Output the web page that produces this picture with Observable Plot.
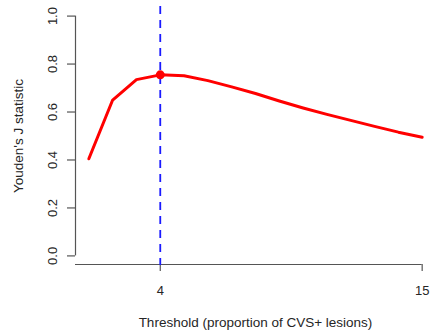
<!DOCTYPE html>
<html>
<head>
<meta charset="utf-8">
<script src="https://cdn.jsdelivr.net/npm/d3@7"></script>
<script src="https://cdn.jsdelivr.net/npm/@observablehq/plot@0.6"></script>
<style>
  html, body { margin: 0; padding: 0; background: #fff; }
</style>
</head>
<body>
<div id="chart"></div>
<script>
const thresholds = [1, 2, 3, 4, 5, 6, 7, 8, 9, 10, 11, 12, 13, 14, 15];
const youdenJ = [0.405, 0.65, 0.735, 0.755, 0.751, 0.731, 0.705, 0.677, 0.646, 0.617, 0.59, 0.565, 0.54, 0.516, 0.495];
const bestThreshold = [4];
const bestJ = [0.755];
const xTicks = [4, 15];
const yTicks = [0, 0.2, 0.4, 0.6, 0.8, 1.0];
const xDomain = [0.44, 15.56];
const yDomain = [-0.04, 1.04];

const data = thresholds.map((t, i) => ({t, j: youdenJ[i]}));
const best = bestThreshold.map((t, i) => ({t, j: bestJ[i]}));
const axisColor = "#555";
const textColor = "#262626";

const chart = Plot.plot({
  width: 438,
  height: 331,
  marginLeft: 75,
  marginRight: 3,
  marginTop: 6,
  marginBottom: 66,
  style: {fontFamily: "'Liberation Sans', Arial, Helvetica, sans-serif", fontSize: "13px", color: textColor, background: "#fff"},
  x: {domain: xDomain},
  y: {domain: yDomain},
  marks: [
    // y axis line & ticks
    Plot.ruleX([xDomain[0]], {y1: yTicks[0], y2: yTicks[yTicks.length - 1], stroke: axisColor, strokeWidth: 1.2}),
    Plot.axisY(yTicks, {anchor: "left", tickSize: 8, tickFormat: () => "", stroke: axisColor, strokeWidth: 1.2, label: null}),
    Plot.text(yTicks, {y: d => d, text: d => d.toFixed(1), frameAnchor: "left", dx: -23, rotate: -90, textAnchor: "middle", lineAnchor: "middle", fill: textColor, fontSize: 13}),
    Plot.text(["Youden's J statistic"], {y: 0.5, text: d => d, frameAnchor: "left", dx: -57, rotate: -90, textAnchor: "middle", lineAnchor: "middle", fill: textColor, fontSize: 13.5}),
    // x axis line & ticks
    Plot.ruleY([yDomain[0]], {x1: xDomain[0], x2: xTicks[xTicks.length - 1], stroke: axisColor, strokeWidth: 1.2, dy: -1}),
    Plot.axisX(xTicks, {anchor: "bottom", tickSize: 7, tickFormat: () => "", stroke: axisColor, strokeWidth: 1.2, label: null, dy: -1}),
    Plot.text(xTicks, {x: d => d, text: d => String(d), frameAnchor: "bottom", dy: 25, lineAnchor: "middle", fill: textColor, fontSize: 13}),
    Plot.text(["Threshold (proportion of CVS+ lesions)"], {x: (xDomain[0] + xDomain[1]) / 2, text: d => d, frameAnchor: "bottom", dy: 57, lineAnchor: "middle", fill: textColor, fontSize: 13.5}),
    // optimal threshold line
    Plot.ruleX(bestThreshold, {stroke: "#1a1aff", strokeWidth: 1.8, strokeDasharray: "8,6"}),
    // J curve
    Plot.line(data, {x: "t", y: "j", stroke: "#ff0000", strokeWidth: 3}),
    Plot.dot(best, {x: "t", y: "j", r: 4.5, fill: "#ff0000", stroke: "none"})
  ]
});
document.getElementById("chart").appendChild(chart);
</script>
</body>
</html>
